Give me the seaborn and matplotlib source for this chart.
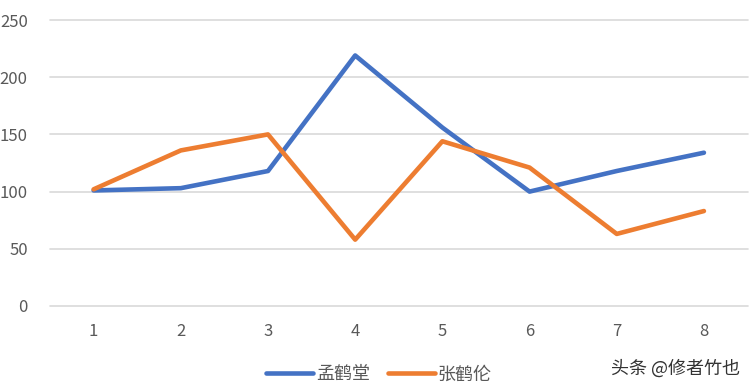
import matplotlib
matplotlib.use("Agg")
import matplotlib.pyplot as plt
import seaborn as sns
import pandas as pd
from matplotlib.lines import Line2D

categories = [1, 2, 3, 4, 5, 6, 7, 8]
series_names = ["孟鹤堂", "张鹤伦"]
meng = [101, 103, 118, 219, 156, 100, 118, 134]
zhang = [102, 136, 150, 58, 144, 121, 63, 83]
y_ticks = [0, 50, 100, 150, 200, 250]
colors = ["#4472C4", "#ED7D31"]

sns.set_theme(style="white")
plt.rcParams['font.family'] = ['Noto Sans CJK SC', 'DejaVu Sans']

df = pd.DataFrame({
    "x": categories * 2,
    "y": meng + zhang,
    "series": [series_names[0]] * len(categories) + [series_names[1]] * len(categories),
})

fig = plt.figure(figsize=(7.5, 3.9), dpi=100)
ax = fig.add_axes([0.0667, 0.2154, 0.93, 0.7333])
sns.lineplot(data=df, x="x", y="y", hue="series", palette=colors, linewidth=3.3,
             ax=ax, legend=False, sort=False)

ax.set_xlim(0.5, 8.5)
ax.set_ylim(0, 250)
ax.set_yticks(y_ticks)
ax.set_xticks(categories)
ax.set_xticklabels([str(c) for c in categories])
ax.grid(axis="y", color="#D9D9D9", linewidth=1.2)
for gl in ax.get_ygridlines():
    gl.set_clip_on(False)
ax.set_axisbelow(True)
for s in ax.spines.values():
    s.set_visible(False)
ax.tick_params(axis="both", length=0, labelsize=12, labelcolor="#595959")
ax.tick_params(axis="x", pad=12)
ax.tick_params(axis="y", pad=16)
ax.set_xlabel("")
ax.set_ylabel("")

handles = [Line2D([0], [0], color=c, linewidth=3.3) for c in colors]
fig.legend(handles, series_names, loc="center", bbox_to_anchor=(0.505, 0.04), ncol=2,
           frameon=False, fontsize=13, handlelength=2.6, handletextpad=0.15,
           columnspacing=1.0, labelcolor="#595959")

fig.text(0.987, 0.055, "头条 @修者竹也", ha="right", va="center", fontsize=13,
         color="#333333")

fig.savefig("out.png", dpi=100, facecolor="white")
